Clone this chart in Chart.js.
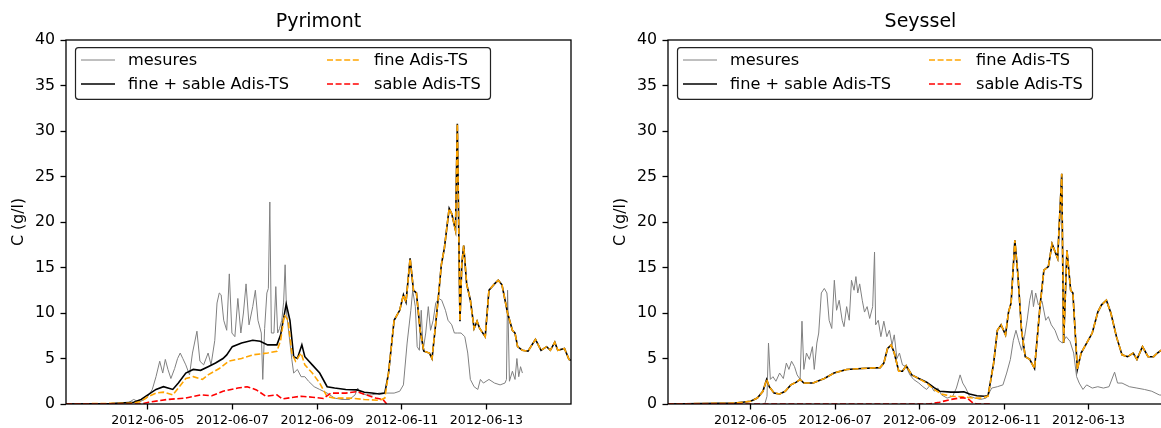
<!DOCTYPE html>
<html>
<head>
<meta charset="utf-8">
<script src="https://cdn.jsdelivr.net/npm/chart.js@4.4.1/dist/chart.umd.min.js"></script>
<style>
  html, body { margin: 0; padding: 0; background: #fff; overflow: hidden; }
  body { width: 1161px; height: 428px; position: relative; }
  canvas { position: absolute; top: 0; }
</style>
</head>
<body>
<canvas id="pyrimont" width="580" height="428" style="left:0"></canvas>
<canvas id="seyssel" width="580" height="428" style="left:602px"></canvas>
<script>
// x values are days since 2012-06-03 00:00
const xTickDays = [2, 4, 6, 8, 10];
const xTickLabels = ['2012-06-05', '2012-06-07', '2012-06-09', '2012-06-11', '2012-06-13'];
const seriesLabels = ['mesures', 'fine + sable Adis-TS', 'fine Adis-TS', 'sable Adis-TS'];
const stationNames = ['Pyrimont', 'Seyssel'];

// ---- Pyrimont ----
const pyrMesures = [
  [1.490, 0], [1.666, 0.5], [1.798, 0.2], [1.974, 0.65], [2.105, 1.6], [2.193, 3.0], [2.281, 4.7],
  [2.352, 3.4], [2.413, 4.9], [2.475, 3.8], [2.545, 2.8], [2.633, 3.9], [2.703, 5.0], [2.765, 5.6],
  [2.826, 5.0], [2.897, 4.3], [2.985, 3.2], [3.055, 5.6], [3.160, 8.0], [3.231, 4.7], [3.319, 4.3],
  [3.424, 5.6], [3.494, 4.3], [3.582, 7.0], [3.635, 11.1], [3.688, 12.2], [3.732, 12.0], [3.793, 9.2],
  [3.864, 8.1], [3.925, 14.3], [3.987, 7.8], [4.057, 7.4], [4.127, 11.6], [4.198, 7.8], [4.259, 10.0],
  [4.321, 13.2], [4.391, 8.7], [4.479, 10.7], [4.541, 12.5], [4.602, 9.2], [4.681, 7.8], [4.716, 2.7],
  [4.760, 8.3], [4.813, 12.2], [4.848, 12.7], [4.883, 22.2], [4.919, 7.8], [4.980, 7.8], [5.024, 12.9],
  [5.068, 7.8], [5.112, 8.3], [5.165, 9.2], [5.209, 11.2], [5.244, 15.3], [5.279, 10.0], [5.332, 7.8],
  [5.402, 4.9], [5.446, 3.4], [5.534, 3.8], [5.622, 3.0], [5.710, 3.0], [5.798, 2.5], [5.930, 1.9],
  [6.061, 1.6], [6.237, 1.2], [6.413, 0.65], [6.589, 0.5], [6.765, 0.5], [6.897, 1.0], [6.958, 1.75],
  [7.028, 1.2], [7.160, 1.0], [7.292, 1.0], [7.468, 1.2], [7.644, 1.2], [7.820, 1.2], [7.952, 1.4],
  [8.040, 2.1], [8.127, 6.7], [8.215, 10.3], [8.259, 12.5], [8.321, 10.7], [8.365, 6.3], [8.417, 5.9],
  [8.461, 10.3], [8.505, 5.9], [8.567, 7.8], [8.628, 10.7], [8.681, 8.1], [8.743, 9.2], [8.804, 11.1],
  [8.875, 11.6], [8.945, 11.4], [9.033, 10.3], [9.094, 9.2], [9.182, 8.7], [9.244, 7.8], [9.314, 7.8],
  [9.402, 7.8], [9.490, 7.4], [9.560, 5.6], [9.622, 2.7], [9.710, 1.9], [9.798, 1.6], [9.859, 2.7],
  [9.930, 2.3], [10.061, 2.7], [10.193, 2.3], [10.325, 2.1], [10.439, 2.3], [10.475, 2.7], [10.501, 12.5],
  [10.545, 2.5], [10.615, 3.6], [10.677, 2.7], [10.721, 5.0], [10.765, 3.0], [10.808, 4.1], [10.852, 3.4]
];
const pyrTotal = [
  [0.066, 0], [1.138, 0.05], [1.666, 0.2], [1.842, 0.5], [2.000, 1.0], [2.193, 1.6], [2.369, 1.9],
  [2.589, 1.6], [2.721, 2.3], [2.897, 3.4], [3.073, 3.8], [3.248, 3.7], [3.424, 4.1], [3.600, 4.5],
  [3.776, 5.0], [3.864, 5.4], [3.996, 6.3], [4.215, 6.7], [4.479, 7.0], [4.655, 6.9], [4.831, 6.5],
  [5.050, 6.5], [5.138, 7.6], [5.270, 11.0], [5.358, 9.2], [5.446, 5.2], [5.534, 5.0], [5.640, 6.5],
  [5.710, 5.2], [5.886, 4.3], [6.061, 3.4], [6.237, 1.9], [6.413, 1.75], [6.677, 1.6], [6.941, 1.55],
  [7.116, 1.3], [7.292, 1.2], [7.468, 1.1], [7.600, 1.2], [7.688, 3.4], [7.820, 9.2], [7.952, 10.3],
  [8.040, 12.0], [8.101, 11.2], [8.198, 16.0], [8.277, 12.5], [8.347, 12.2], [8.435, 8.1], [8.523, 5.8],
  [8.655, 5.6], [8.716, 5.0], [8.787, 8.1], [8.875, 12.2], [8.936, 15.3], [9.007, 17.1], [9.121, 21.5],
  [9.182, 20.9], [9.270, 19.1], [9.314, 30.8], [9.376, 9.1], [9.420, 15.4], [9.464, 17.4], [9.534, 13.2],
  [9.622, 11.4], [9.710, 8.3], [9.780, 9.1], [9.842, 8.3], [9.973, 7.4], [10.061, 12.5], [10.193, 13.2],
  [10.281, 13.6], [10.369, 13.1], [10.501, 10.0], [10.615, 8.1], [10.677, 7.8], [10.738, 6.3],
  [10.852, 5.9], [10.984, 5.8], [11.160, 7.1], [11.292, 5.9], [11.424, 6.3], [11.512, 5.9], [11.617, 6.8],
  [11.688, 5.9], [11.846, 6.1], [11.952, 4.9], [11.996, 4.8]
];
const pyrFineEarly = [
  [0.066, 0], [1.666, 0.1], [1.842, 0.3], [2.000, 0.8], [2.193, 1.2], [2.369, 1.3], [2.589, 1.0],
  [2.721, 1.75], [2.897, 2.8], [3.073, 3.0], [3.292, 2.7], [3.424, 3.2], [3.688, 3.9], [3.908, 4.7],
  [4.215, 5.0], [4.479, 5.4], [4.655, 5.5], [4.831, 5.6], [5.050, 5.8], [5.138, 7.0], [5.226, 9.8],
  [5.314, 9.2], [5.402, 5.6], [5.490, 4.7], [5.622, 5.6], [5.710, 4.3], [5.886, 3.4], [6.061, 2.3],
  [6.237, 0.8], [6.413, 0.65], [6.765, 0.65], [7.116, 0.5], [7.468, 0.4], [7.600, 0.65]
];
const pyrSable = [
  [0.066, 0], [1.842, 0], [2.018, 0.2], [2.457, 0.5], [2.897, 0.65], [3.248, 1.0], [3.512, 0.9],
  [3.776, 1.4], [4.127, 1.75], [4.347, 1.9], [4.567, 1.55], [4.787, 0.85], [5.050, 1.0], [5.182, 0.55],
  [5.446, 0.75], [5.622, 0.85], [5.886, 0.75], [6.149, 0.6], [6.325, 1.2], [6.677, 1.2], [6.941, 1.35],
  [7.160, 1.0], [7.380, 0.65], [7.556, 0.5], [7.644, 0]
];

// ---- Seyssel ----
const seyMesures = [
  [2.335, 0], [2.388, 0.85], [2.423, 6.7], [2.467, 2.7], [2.529, 3.0], [2.599, 2.5], [2.687, 3.4],
  [2.775, 2.8], [2.846, 4.5], [2.907, 3.8], [2.969, 4.7], [3.040, 4.1], [3.101, 3.2], [3.172, 2.7],
  [3.216, 9.1], [3.260, 3.8], [3.322, 5.6], [3.392, 4.9], [3.463, 6.3], [3.507, 3.8], [3.568, 6.7],
  [3.612, 7.8], [3.674, 12.2], [3.745, 12.7], [3.806, 12.2], [3.859, 9.2], [3.921, 8.3], [3.982, 13.6],
  [4.035, 10.3], [4.097, 11.4], [4.167, 9.2], [4.211, 8.5], [4.273, 10.7], [4.335, 9.2], [4.388, 13.6],
  [4.449, 12.5], [4.493, 14.0], [4.537, 12.2], [4.582, 13.2], [4.643, 11.4], [4.696, 10.1], [4.758, 10.7],
  [4.819, 9.4], [4.890, 10.7], [4.934, 16.7], [4.960, 8.7], [5.022, 9.2], [5.084, 7.4], [5.154, 9.1],
  [5.225, 7.4], [5.286, 8.1], [5.348, 6.5], [5.401, 7.6], [5.463, 5.0], [5.524, 5.6], [5.595, 4.3],
  [5.683, 4.1], [5.771, 3.2], [5.859, 2.7], [5.982, 2.3], [6.079, 1.9], [6.167, 1.6], [6.256, 2.1],
  [6.344, 1.4], [6.432, 1.75], [6.520, 1.0], [6.652, 0.65], [6.784, 0.85], [6.872, 1.75], [6.960, 3.2],
  [7.022, 2.3], [7.093, 1.75], [7.181, 0.85], [7.313, 0.65], [7.445, 0.5], [7.577, 0.65], [7.709, 1.75],
  [7.841, 1.9], [7.974, 2.1], [8.062, 3.4], [8.150, 4.9], [8.220, 7.0], [8.282, 8.1], [8.344, 7.0],
  [8.414, 5.9], [8.485, 7.4], [8.546, 9.2], [8.608, 11.4], [8.661, 12.5], [8.696, 10.7], [8.749, 12.2],
  [8.811, 10.9], [8.899, 11.3], [8.987, 9.2], [9.049, 9.6], [9.119, 8.7], [9.207, 8.1], [9.295, 7.0],
  [9.383, 6.7], [9.471, 7.4], [9.560, 6.9], [9.648, 5.6], [9.718, 3.0], [9.780, 2.3], [9.868, 1.6],
  [9.956, 2.1], [10.088, 1.75], [10.220, 1.9], [10.352, 1.75], [10.485, 1.9], [10.617, 3.5], [10.687, 2.3],
  [10.793, 2.3], [10.969, 1.9], [11.146, 1.75], [11.322, 1.6], [11.498, 1.4], [11.674, 1.0], [11.850, 0.9]
];
const seyFine = [
  [0.044, 0], [1.630, 0.1], [1.806, 0.2], [2.000, 0.3], [2.159, 0.65], [2.291, 1.4], [2.379, 2.7],
  [2.441, 1.9], [2.555, 1.2], [2.687, 1.1], [2.819, 1.4], [2.952, 2.1], [3.084, 2.4], [3.172, 2.7],
  [3.260, 2.3], [3.480, 2.3], [3.745, 2.8], [3.974, 3.4], [4.273, 3.8], [4.626, 3.9], [5.066, 4.0],
  [5.154, 4.5], [5.242, 6.1], [5.330, 6.5], [5.401, 5.6], [5.507, 3.6], [5.595, 3.6], [5.683, 4.2],
  [5.815, 3.2], [5.982, 2.8], [6.167, 2.3], [6.344, 1.6], [6.520, 1.1], [6.740, 0.85], [7.005, 0.8],
  [7.269, 0.65], [7.445, 0.65], [7.621, 0.85], [7.754, 4.5], [7.842, 8.1], [7.930, 8.7], [8.035, 7.6],
  [8.106, 10.1], [8.167, 11.1], [8.256, 18.0], [8.326, 14.3], [8.414, 8.1], [8.502, 5.2], [8.608, 4.9],
  [8.722, 3.9], [8.855, 10.9], [8.943, 14.7], [9.049, 15.1], [9.137, 17.6], [9.269, 16.0], [9.366, 25.3],
  [9.410, 6.7], [9.489, 16.9], [9.577, 12.5], [9.630, 12.2], [9.736, 3.8], [9.824, 5.6], [9.956, 6.7],
  [10.088, 7.8], [10.220, 10.1], [10.308, 10.9], [10.423, 11.4], [10.529, 10.0], [10.661, 7.4],
  [10.793, 5.4], [10.925, 5.2], [11.058, 5.6], [11.146, 4.9], [11.278, 6.3], [11.410, 5.2], [11.542, 5.2],
  [11.630, 5.6], [11.718, 5.9], [11.938, 5.6]
];
const seyTotalMid = [
  [6.167, 2.4], [6.344, 1.8], [6.476, 1.4], [6.740, 1.3], [6.916, 1.3], [7.049, 1.35], [7.181, 1.1],
  [7.357, 0.9], [7.533, 0.85], [7.621, 0.9]
];
const seySable = [
  [0.044, 0], [6.211, 0], [6.476, 0.2], [6.740, 0.5], [7.005, 0.7], [7.137, 0.6], [7.269, 0.1],
  [7.357, 0], [7.665, 0]
];

const pyrFine = pyrFineEarly.concat(pyrTotal.filter(p => p[0] >= 7.688));
const seyTotal = seyFine.filter(p => p[0] < 6.1 || p[0] > 7.65).concat(seyTotalMid).sort((a, b) => a[0] - b[0]);

const FONT = '"DejaVu Sans", sans-serif';
const toXY = arr => arr.map(p => ({ x: p[0], y: p[1] }));

// frame, title and a matplotlib-like two column legend
const framePlugin = {
  id: 'framePlugin',
  afterDraw(chart, args, opts) {
    const { ctx, chartArea: a } = chart;
    ctx.save();
    ctx.strokeStyle = '#000';
    ctx.lineWidth = 1.3;
    ctx.strokeRect(a.left, a.top, a.right - a.left, a.bottom - a.top);

    ctx.fillStyle = '#000';
    ctx.font = '19px ' + FONT;
    ctx.textAlign = 'center';
    ctx.textBaseline = 'middle';
    ctx.fillText(opts.title, (a.left + a.right) / 2, 22);

    // legend box
    const bx = a.left + 9.5, by = a.top + 7.7, bw = 415, bh = 51.6, r = 3;
    ctx.beginPath();
    ctx.moveTo(bx + r, by);
    ctx.arcTo(bx + bw, by, bx + bw, by + bh, r);
    ctx.arcTo(bx + bw, by + bh, bx, by + bh, r);
    ctx.arcTo(bx, by + bh, bx, by, r);
    ctx.arcTo(bx, by, bx + bw, by, r);
    ctx.closePath();
    ctx.fillStyle = '#fff';
    ctx.fill();
    ctx.lineWidth = 1.2;
    ctx.strokeStyle = '#222';
    ctx.stroke();

    const ds = chart.data.datasets;
    const slots = [[15, 62, 20], [15, 62, 44], [261, 308, 20], [261, 308, 44]];
    ds.forEach((d, i) => {
      const [hx, tx, ry] = slots[i];
      const y = a.top + ry;
      ctx.beginPath();
      ctx.setLineDash(d.borderDash || []);
      ctx.strokeStyle = d.borderColor;
      ctx.lineWidth = d.borderWidth;
      ctx.moveTo(a.left + hx, y);
      ctx.lineTo(a.left + hx + 34, y);
      ctx.stroke();
      ctx.setLineDash([]);
      ctx.fillStyle = '#000';
      ctx.font = '16.2px ' + FONT;
      ctx.textAlign = 'left';
      ctx.textBaseline = 'middle';
      ctx.fillText(d.label, a.left + tx, y + 1);
    });
    ctx.restore();
  }
};

function makeChart(id, title, xMin, mesures, total, fine, sable) {
  return new Chart(document.getElementById(id), {
    type: 'line',
    data: {
      datasets: [
        { label: seriesLabels[0], data: toXY(mesures), borderColor: '#808080', borderWidth: 1, order: 4 },
        { label: seriesLabels[1], data: toXY(total), borderColor: '#000000', borderWidth: 1.6, order: 3 },
        { label: seriesLabels[2], data: toXY(fine), borderColor: '#ffa500', borderWidth: 1.6, borderDash: [6, 2.6], order: 2 },
        { label: seriesLabels[3], data: toXY(sable), borderColor: '#ff0000', borderWidth: 1.6, borderDash: [6, 2.6], order: 1 }
      ]
    },
    options: {
      responsive: false,
      animation: false,
      devicePixelRatio: 1,
      events: [],
      elements: { point: { radius: 0 }, line: { tension: 0, fill: false } },
      layout: { padding: { top: 40, right: 9, left: 0, bottom: 0 } },
      plugins: {
        legend: { display: false },
        tooltip: { enabled: false },
        title: { display: false },
        framePlugin: { title: title }
      },
      scales: {
        x: {
          type: 'linear',
          min: xMin,
          max: 12.0,
          afterBuildTicks: s => { s.ticks = xTickDays.map(v => ({ value: v })); },
          afterFit: s => { s.height = 24; },
          ticks: {
            autoSkip: false, maxRotation: 0, padding: 4, color: '#000',
            font: { family: FONT, size: 12.6 },
            callback: (v, i) => xTickLabels[i]
          },
          grid: { drawOnChartArea: false, drawTicks: true, tickLength: 5.5, tickWidth: 1.3, tickColor: '#000' },
          border: { display: false }
        },
        y: {
          min: 0,
          max: 40,
          afterFit: s => { s.width = 66; },
          ticks: { stepSize: 5, padding: 5.5, color: '#000', font: { family: FONT, size: 15.8 } },
          grid: { drawOnChartArea: false, drawTicks: true, tickLength: 5.5, tickWidth: 1.3, tickColor: '#000' },
          border: { display: false },
          title: { display: true, text: 'C (g/l)', color: '#000', padding: { top: 9, bottom: 0 }, font: { family: FONT, size: 15.8 } }
        }
      }
    },
    plugins: [framePlugin]
  });
}

makeChart('pyrimont', stationNames[0], 0.066, pyrMesures, pyrTotal, pyrFine, pyrSable);
makeChart('seyssel', stationNames[1], 0.044, seyMesures, seyTotal, seyFine, seySable);
</script>
</body>
</html>
